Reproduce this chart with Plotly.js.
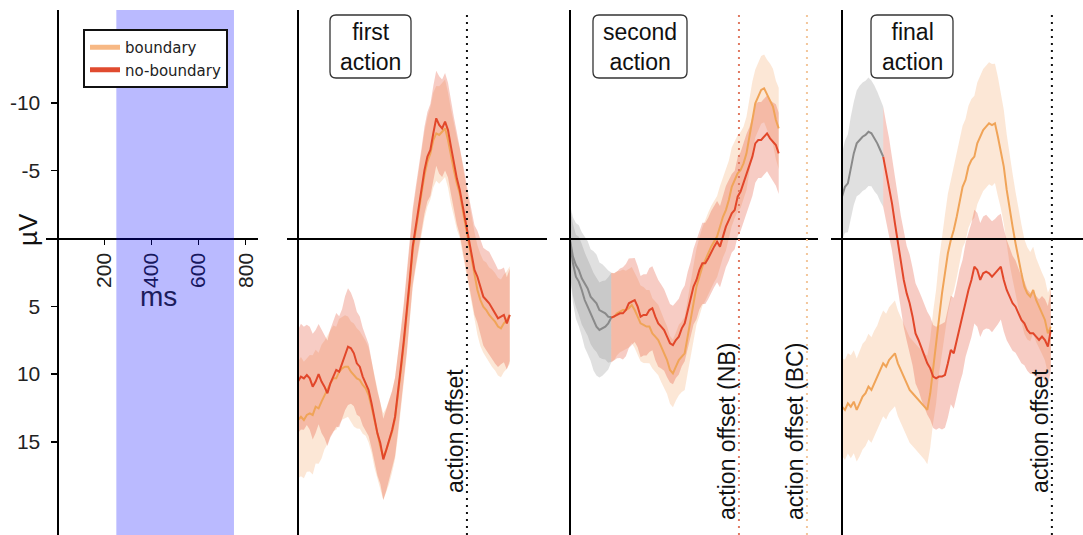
<!DOCTYPE html>
<html><head><meta charset="utf-8">
<script src="https://cdn.plot.ly/plotly-3.0.1.min.js"></script>
<style>html,body{margin:0;padding:0;background:#fff;}#chart{width:1083px;height:535px;}</style>
</head><body><div id="chart"></div>
<script>
// ---------------- data ----------------
const seriesNames = ['boundary', 'no-boundary'];
const panelTitles = ['first<br>action', 'second<br>action', 'final<br>action'];
const msTickVals = [200, 400, 600, 800];
const uvTickVals = [-10, -5, 5, 10, 15];
const uvTickText = ['-10', '-5', '5', '10', '15'];
const windowStart = 250, windowEnd = 750;           // shaded analysis window (ms)

// first action
const p2Time = [0,12.5,25,37.5,50,62.5,75,87.5,100,112.5,125,137.5,150,162.5,175,187.5,200,212.5,225,237.5,250,262.5,275,287.5,300,312.5,325,337.5,350,362.5,375,387.5,400,412.5,425,437.5,450,462.5,475,487.5,500,512.5,525,537.5,550,562.5,575,587.5,600,612.5,625,637.5,650,662.5,675,687.5,700,712.5,725,737.5,750,762.5,775,787.5,800,812.5,825,837.5,850,862.5,875,887.5,900];
const p2Boundary = [13.39,13.15,13.39,13.02,12.9,13.02,12.41,12.53,12.04,11.55,11.18,10.69,10.32,10.32,9.83,9.58,9.46,9.46,9.83,10.07,10.32,10.44,10.81,11.06,11.55,12.41,13.52,14.38,15.36,16.1,15.61,14.99,14.25,13.27,11.67,9.7,7.73,5.77,3.31,0.85,-0.63,-2.1,-3.33,-4.68,-5.67,-6.28,-7.27,-7.76,-7.64,-7.88,-8.13,-7.27,-6.04,-5.05,-4.07,-3.33,-2.1,-0.87,0.23,1.59,2.82,3.8,4.54,5.03,5.28,5.64,5.89,6.14,6.5,6.63,6.26,6.01,5.64];
const p2NoBoundary = [10.56,10.19,10.32,10.07,10.32,10.93,10.56,10.0,10.56,10.93,11.42,10.69,10.19,9.7,9.83,9.21,8.47,7.98,8.1,8.47,9.21,9.46,10.19,10.69,11.18,12.16,13.39,14.38,15.11,16.3,15.61,14.87,14.13,13.15,11.42,9.46,7.49,5.52,3.06,0.6,-0.87,-2.35,-3.58,-5.05,-6.04,-6.53,-7.76,-8.87,-8.38,-8.13,-8.62,-8.0,-6.78,-5.55,-4.44,-3.58,-2.35,-1.12,0.11,1.34,2.32,2.82,3.55,4.29,4.54,4.78,5.15,5.52,5.89,5.77,5.64,6.26,5.64];
const p2CIBoundary = [4.3,4.4,4.3,4.2,4.3,4.4,4.2,4.1,4.2,4.0,4.0,3.9,3.9,3.8,3.9,3.8,3.8,3.7,3.7,3.8,3.7,3.6,3.6,3.5,3.5,3.4,3.4,3.3,3.2,3.2,3.1,3.1,3.0,3.0,2.9,2.9,2.8,2.8,2.8,2.8,2.9,3.0,3.1,3.2,3.3,3.4,3.5,3.5,3.6,3.6,3.6,3.5,3.5,3.4,3.4,3.3,3.3,3.2,3.2,3.2,3.3,3.3,3.4,3.4,3.5,3.5,3.6,3.6,3.6,3.6,3.6,3.6,3.6];
const p2CINoBoundary = [3.8,3.9,3.8,3.7,3.8,3.9,3.8,3.7,3.8,3.8,3.9,4.0,4.1,4.2,4.1,4.0,4.2,4.3,4.1,3.9,3.8,3.7,3.6,3.5,3.4,3.3,3.2,3.1,3.0,3.0,3.0,2.9,2.9,2.9,2.8,2.8,2.8,2.8,2.8,2.8,2.9,3.0,3.1,3.2,3.3,3.4,3.5,3.5,3.6,3.6,3.6,3.5,3.5,3.4,3.4,3.3,3.3,3.3,3.3,3.3,3.3,3.4,3.5,3.6,3.7,3.8,3.8,3.7,3.6,3.5,3.5,3.4,3.4];
const p2Offset = 718;

// second action (first 175 ms shown in grey)
const p3Time = [0,12.5,25,37.5,50,62.5,75,87.5,100,112.5,125,137.5,150,162.5,175,187.5,200,212.5,225,237.5,250,262.5,275,287.5,300,312.5,325,337.5,350,362.5,375,387.5,400,412.5,425,437.5,450,462.5,475,487.5,500,512.5,525,537.5,550,562.5,575,587.5,600,612.5,625,637.5,650,662.5,675,687.5,700,712.5,725,737.5,750,762.5,775,787.5,800,812.5,825,837.5,850,862.5,875,887];
const p3Boundary = [0.11,1.34,1.96,2.32,2.94,3.31,3.68,4.29,4.54,4.78,5.28,5.4,5.52,5.77,5.8,5.77,5.52,5.4,5.28,5.28,5.15,4.91,5.28,5.77,6.26,6.38,6.5,6.5,7.0,7.24,7.49,7.98,8.47,8.97,9.7,9.95,9.46,8.97,8.72,8.47,7.24,6.01,4.78,3.55,2.82,2.08,1.59,1.09,0.6,0.23,-0.14,-0.87,-1.6,-2.1,-2.84,-3.82,-4.32,-4.81,-5.05,-5.55,-6.28,-7.51,-8.99,-9.97,-10.47,-10.96,-11.08,-10.59,-10.22,-9.73,-8.74,-8.13];
const p3NoBoundary = [0.23,1.83,2.82,3.18,3.8,4.54,5.03,5.52,6.14,6.5,6.75,6.63,6.5,6.26,5.85,5.77,5.64,5.52,5.52,5.28,4.78,4.66,4.54,5.03,5.77,5.64,5.64,5.28,5.15,5.77,6.26,6.5,6.75,7.24,7.73,7.86,7.49,7.24,6.63,6.26,5.28,4.54,3.55,3.06,2.32,1.83,1.83,1.46,0.97,0.6,0.23,0.6,-0.14,-0.87,-1.36,-1.86,-2.1,-3.09,-3.46,-4.07,-4.81,-5.3,-6.04,-7.02,-7.27,-7.27,-7.51,-7.76,-7.39,-7.14,-6.9,-6.28];
const p3CIBoundary = [2.6,2.9,3.1,3.3,3.4,3.5,3.5,3.5,3.6,3.6,3.5,3.5,3.4,3.4,3.3,3.2,3.1,3.0,3.0,2.9,2.9,2.8,2.8,2.8,2.8,2.8,2.7,2.7,2.6,2.6,2.6,2.6,2.5,2.5,2.5,2.5,2.5,2.6,2.6,2.7,2.7,2.8,2.8,2.8,2.9,2.9,3.0,3.0,3.0,3.0,3.0,3.0,3.0,3.0,2.9,2.9,2.8,2.8,2.8,2.7,2.7,2.6,2.6,2.5,2.5,2.5,2.5,2.6,2.7,2.8,2.9,3.0];
const p3CINoBoundary = [2.6,2.9,3.1,3.3,3.4,3.5,3.5,3.5,3.6,3.6,3.5,3.5,3.4,3.4,3.3,3.2,3.2,3.3,3.4,3.4,3.3,3.2,3.1,3.0,3.0,3.0,3.0,3.1,3.1,3.2,3.2,3.1,3.0,3.0,2.9,2.9,2.8,2.8,2.8,2.8,2.8,2.8,2.8,2.9,2.9,3.0,3.0,3.0,3.0,3.0,3.0,3.0,3.0,3.0,3.0,2.9,2.9,2.9,2.9,2.9,2.9,2.9,2.9,2.9,2.8,2.8,2.8,2.8,2.8,2.9,3.0,3.0];
const p3GreyEnd = 175;
const p3OffsetNB = 718, p3OffsetBC = 1007;

// final action (no-boundary first 175 ms shown in grey)
const p4Time = [0,12.5,25,37.5,50,62.5,75,87.5,100,112.5,125,137.5,150,162.5,175,187.5,200,212.5,225,237.5,250,262.5,275,287.5,300,312.5,325,337.5,350,362.5,375,387.5,400,412.5,425,437.5,450,462.5,475,487.5,500,512.5,525,537.5,550,562.5,575,587.5,600,612.5,625,637.5,650,662.5,675,687.5,700,712.5,725,737.5,750,762.5,775,787.5,800,812.5,825,837.5,850,862.5,875,887.5];
const p4Boundary = [12.41,12.65,12.16,12.41,12.04,12.65,12.16,11.67,11.42,10.93,11.18,10.69,10.32,9.71,9.21,9.46,8.97,8.72,8.47,9.21,9.71,10.19,10.69,11.18,11.42,11.67,11.92,12.16,12.41,12.65,11.42,9.46,7.98,5.77,4.05,2.57,1.09,0.11,-0.63,-1.61,-2.84,-3.82,-4.32,-5.3,-5.79,-6.04,-7.02,-7.51,-8.0,-8.25,-8.5,-8.37,-8.5,-7.51,-6.53,-5.3,-3.58,-2.1,-0.87,0.36,1.59,2.57,3.55,4.05,4.29,3.8,4.54,5.03,5.52,6.01,7.0,6.5];
const p4NoBoundary = [-3.09,-3.82,-4.07,-5.3,-6.28,-7.02,-7.27,-7.51,-7.64,-7.88,-7.76,-7.39,-7.02,-6.53,-6.04,-4.93,-3.82,-2.59,-1.12,0.36,1.83,3.06,4.05,4.78,5.77,7.0,7.49,8.1,8.72,9.21,9.58,10.19,10.32,10.19,10.19,10.07,9.21,8.23,8.47,7.49,6.5,5.77,4.54,3.8,3.06,2.08,2.32,3.06,2.57,2.45,2.57,2.82,2.57,2.32,2.08,3.06,3.8,4.29,4.78,5.03,5.52,6.01,6.26,6.75,7.0,7.0,7.24,7.49,7.24,7.49,7.98,6.75];
const p4CIBoundary = [3.6,3.7,3.7,3.8,3.8,3.8,3.9,3.9,3.9,3.9,3.9,3.9,3.9,3.9,3.9,3.9,3.9,3.9,3.9,3.9,3.9,3.9,3.9,3.9,3.9,3.9,3.9,3.9,3.9,4.0,4.0,4.1,4.2,4.2,4.3,4.3,4.4,4.4,4.5,4.5,4.5,4.5,4.5,4.5,4.5,4.5,4.5,4.5,4.5,4.5,4.5,4.5,4.4,4.4,4.3,4.2,4.1,4.0,3.9,3.8,3.7,3.6,3.5,3.4,3.3,3.2,3.1,3.0,3.0,3.0,3.0,3.0];
const p4CINoBoundary = [3.2,3.4,3.6,3.7,3.8,3.9,4.0,4.0,4.0,4.0,3.9,3.9,3.8,3.8,3.7,3.6,3.6,3.5,3.5,3.5,3.5,3.5,3.5,3.6,3.6,3.7,3.7,3.8,3.8,3.8,3.8,3.8,3.8,3.8,3.9,3.9,4.0,4.0,4.1,4.1,4.2,4.2,4.2,4.2,4.2,4.2,4.2,4.2,4.2,4.2,4.1,4.1,4.0,4.0,3.9,3.8,3.7,3.6,3.5,3.4,3.3,3.2,3.1,3.0,3.0,3.0,3.0,3.0,3.0,3.0,3.0,3.0];
const p4GreyEnd = 175;
const p4Offset = 892;

// ---------------- styling / layout ----------------
const W = 1083, H = 535;
const K = 0.2353;                       // px per ms
const Y_TOP = 10, Y_ZERO = 238.5, PXUV = 13.552;
const yRange = [(H - Y_ZERO) / PXUV, (Y_TOP - Y_ZERO) / PXUV];
const COL = {
  bLine: '#f0a458', nbLine: '#e2472a', gLine: '#8a8a8a',
  bFill: 'rgba(245,160,90,0.25)', nbFill: 'rgba(226,71,42,0.28)', gFill: 'rgba(130,130,130,0.25)',
  bLeg: '#f7b884', nbLeg: '#e04b2f'
};
const FONT = 'Liberation Sans, Arial, sans-serif';
const panels = [
  {left: 46, right: 258, zero: 57.5},
  {left: 287, right: 547, zero: 298},
  {left: 560, right: 818, zero: 570},
  {left: 831, right: 1083, zero: 842}
];
const px = x => x / W, py = y => 1 - y / H;

const layout = {
  width: W, height: H, margin: {l: 0, r: 0, t: 0, b: 0, pad: 0},
  paper_bgcolor: '#fff', plot_bgcolor: 'rgba(0,0,0,0)', showlegend: true,
  font: {family: FONT, color: '#222'},
  legend: {x: px(83), y: py(29), xanchor: 'left', yanchor: 'top', bgcolor: '#fff',
    bordercolor: '#111', borderwidth: 2, font: {family: 'DejaVu Sans, sans-serif', size: 15, color: '#222'},
    tracegroupgap: 0, itemwidth: 30},
  shapes: [], annotations: []
};
panels.forEach((p, i) => {
  const s = i ? String(i + 1) : '';
  layout['xaxis' + s] = {
    domain: [px(p.left), px(p.right)], range: [(p.left - p.zero) / K, (p.right - p.zero) / K],
    anchor: 'free', position: py(Y_ZERO), showline: true, linecolor: '#000', linewidth: 2,
    showgrid: false, zeroline: false, ticks: '', showticklabels: false, fixedrange: true, automargin: false
  };
  layout['yaxis' + s] = {
    domain: [0, py(Y_TOP)], range: yRange, anchor: 'free', position: px(p.zero),
    showline: true, linecolor: '#000', linewidth: 2, showgrid: false, zeroline: false,
    ticks: '', showticklabels: false, fixedrange: true, automargin: false
  };
});
Object.assign(layout.xaxis, {
  tickmode: 'array', tickvals: msTickVals, ticks: 'outside', ticklen: 5, tickwidth: 1.5, tickcolor: '#000',
  showticklabels: true, tickangle: -90, tickfont: {family: FONT, size: 21, color: '#222'}
});
Object.assign(layout.yaxis, {
  tickmode: 'array', tickvals: uvTickVals, ticktext: uvTickText, ticks: 'outside', ticklen: 6, tickwidth: 1.5,
  tickcolor: '#000', showticklabels: true, ticklabelstandoff: 6, tickfont: {family: FONT, size: 21, color: '#222'}
});

const bands = [], lines = [];
function addSeries(ax, t, mean, ci, i0, i1, lineColor, fillColor) {
  const tt = t.slice(i0, i1 + 1), m = mean.slice(i0, i1 + 1), c = ci.slice(i0, i1 + 1);
  const up = m.map((v, j) => v + c[j]), lo = m.map((v, j) => v - c[j]);
  bands.push({type: 'scatter', mode: 'lines', x: tt.concat(tt.slice().reverse()), y: up.concat(lo.slice().reverse()),
    fill: 'toself', fillcolor: fillColor, line: {width: 0, color: fillColor}, xaxis: 'x' + ax, yaxis: 'y' + ax,
    showlegend: false, hoverinfo: 'skip'});
  lines.push({type: 'scatter', mode: 'lines', x: tt, y: m, line: {color: lineColor, width: 2},
    xaxis: 'x' + ax, yaxis: 'y' + ax, showlegend: false, hoverinfo: 'skip'});
}
const last = a => a.length - 1;
// panel 2
addSeries('2', p2Time, p2Boundary, p2CIBoundary, 0, last(p2Time), COL.bLine, COL.bFill);
addSeries('2', p2Time, p2NoBoundary, p2CINoBoundary, 0, last(p2Time), COL.nbLine, COL.nbFill);
// panel 3
const g3 = p3Time.indexOf(p3GreyEnd);
addSeries('3', p3Time, p3Boundary, p3CIBoundary, g3, last(p3Time), COL.bLine, COL.bFill);
addSeries('3', p3Time, p3NoBoundary, p3CINoBoundary, g3, last(p3Time), COL.nbLine, COL.nbFill);
addSeries('3', p3Time, p3Boundary, p3CIBoundary, 0, g3, COL.gLine, COL.gFill);
addSeries('3', p3Time, p3NoBoundary, p3CINoBoundary, 0, g3, COL.gLine, COL.gFill);
// panel 4
const g4 = p4Time.indexOf(p4GreyEnd);
addSeries('4', p4Time, p4Boundary, p4CIBoundary, 0, last(p4Time), COL.bLine, COL.bFill);
addSeries('4', p4Time, p4NoBoundary, p4CINoBoundary, g4, last(p4Time), COL.nbLine, COL.nbFill);
addSeries('4', p4Time, p4NoBoundary, p4CINoBoundary, 0, g4, COL.gLine, COL.gFill);

const legendTraces = [
  {type: 'scatter', mode: 'lines', x: [null], y: [null], name: seriesNames[0], line: {color: COL.bLeg, width: 5}, xaxis: 'x', yaxis: 'y', hoverinfo: 'skip'},
  {type: 'scatter', mode: 'lines', x: [null], y: [null], name: seriesNames[1], line: {color: COL.nbLeg, width: 5}, xaxis: 'x', yaxis: 'y', hoverinfo: 'skip'}
];

// analysis window band (drawn above, tinting the axis and labels like the original)
layout.shapes.push({type: 'rect', xref: 'x', yref: 'y', x0: windowStart, x1: windowEnd, y0: yRange[0], y1: yRange[1],
  fillcolor: 'rgba(0,0,255,0.27)', line: {width: 0}, layer: 'above'});

// offset lines + labels
function offsetLine(ax, t, color, label) {
  layout.shapes.push({type: 'line', xref: 'x' + ax, yref: 'y' + ax, x0: t, x1: t, y0: yRange[0], y1: yRange[1],
    line: {color: color, width: 2, dash: '2px,5px'}, layer: 'above'});
  layout.annotations.push({xref: 'x' + ax, yref: 'paper', x: t, y: py(431), xshift: -12, text: label,
    textangle: -90, showarrow: false, xanchor: 'center', yanchor: 'middle',
    font: {family: FONT, size: 23, color: '#111'}});
}
offsetLine('2', p2Offset, '#111', 'action offset');
offsetLine('3', p3OffsetNB, '#e07a62', 'action offset (NB)');
offsetLine('3', p3OffsetBC, '#f3c79c', 'action offset (BC)');
offsetLine('4', p4Offset, '#111', 'action offset');

// panel label boxes
function roundRect(x0, y0, x1, y1, r) {
  const X = v => (v / W).toFixed(5), Y = v => (1 - v / H).toFixed(5);
  return `M${X(x0 + r)},${Y(y0)} L${X(x1 - r)},${Y(y0)} Q${X(x1)},${Y(y0)} ${X(x1)},${Y(y0 + r)} ` +
    `L${X(x1)},${Y(y1 - r)} Q${X(x1)},${Y(y1)} ${X(x1 - r)},${Y(y1)} L${X(x0 + r)},${Y(y1)} ` +
    `Q${X(x0)},${Y(y1)} ${X(x0)},${Y(y1 - r)} L${X(x0)},${Y(y0 + r)} Q${X(x0)},${Y(y0)} ${X(x0 + r)},${Y(y0)} Z`;
}
const boxes = [[330, 15, 411, 78], [593, 15, 687, 78], [871, 15, 953, 78]];
boxes.forEach((b, i) => {
  layout.shapes.push({type: 'path', xref: 'paper', yref: 'paper', path: roundRect(b[0], b[1], b[2], b[3], 6),
    line: {color: '#333', width: 1.3}, fillcolor: 'rgba(255,255,255,0)', layer: 'above'});
  layout.annotations.push({xref: 'paper', yref: 'paper', x: px((b[0] + b[2]) / 2), y: py((b[1] + b[3]) / 2),
    text: panelTitles[i], showarrow: false, xanchor: 'center', yanchor: 'middle', align: 'center',
    font: {family: FONT, size: 23, color: '#111'}});
});

layout.annotations.push({xref: 'paper', yref: 'paper', x: px(28), y: py(230), text: 'µV', textangle: -90,
  showarrow: false, xanchor: 'center', yanchor: 'middle', font: {family: FONT, size: 26, color: '#111'}});
layout.annotations.push({xref: 'paper', yref: 'paper', x: px(158), y: py(296), text: 'ms',
  showarrow: false, xanchor: 'center', yanchor: 'middle', font: {family: FONT, size: 28, color: '#1c1c5c'}});

Plotly.newPlot('chart', bands.concat(lines, legendTraces), layout, {staticPlot: true, displayModeBar: false});
</script></body></html>
